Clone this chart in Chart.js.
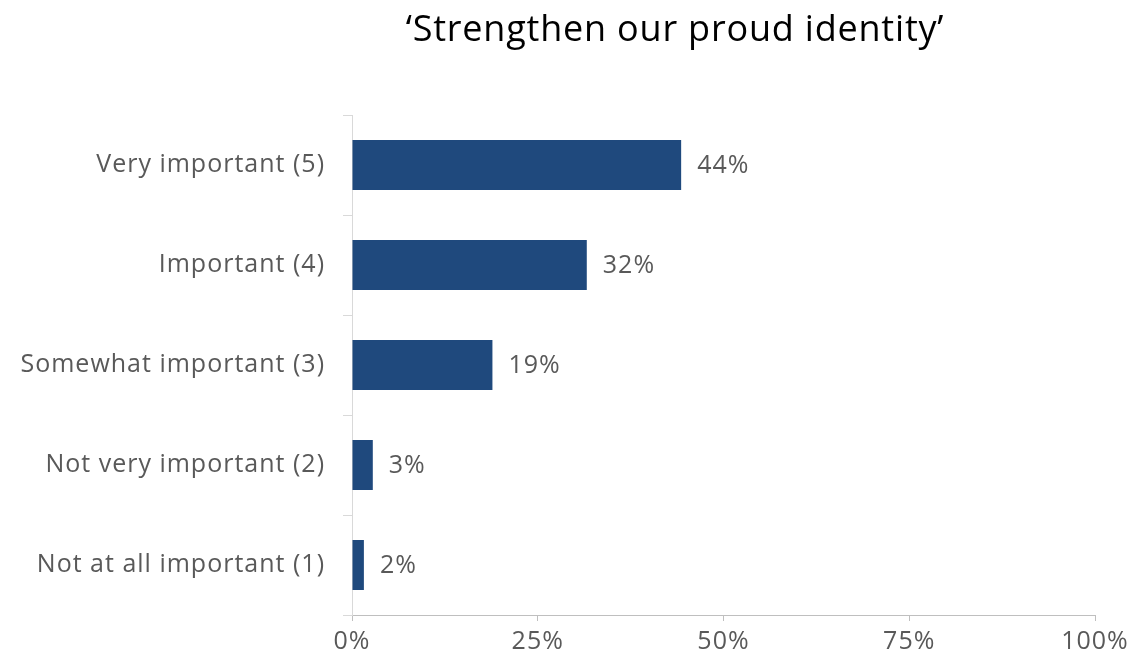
<!DOCTYPE html>
<html>
<head>
<meta charset="utf-8">
<script src="https://cdn.jsdelivr.net/npm/chart.js@4.4.1/dist/chart.umd.min.js"></script>
<style>
  html, body { margin: 0; padding: 0; background: #fff; }
  #wrap { position: relative; width: 1128px; height: 656px; }
  #title {
    position: absolute; left: 0; width: 1350px; top: 3px;
    text-align: center; font-family: 'Open Sans', sans-serif; font-size: 36px;
    letter-spacing: 0.8px;
    color: #000; white-space: nowrap;
  }
  canvas { position: absolute; left: 0; top: 0; }
</style>
</head>
<body>
<div id="wrap">
  <canvas id="chart" width="1128" height="656"></canvas>
  <div id="title">‘Strengthen our proud identity’</div>
</div>
<script>
// --- DATA ---
const categories = [
  'Very important (5)',
  'Important (4)',
  'Somewhat important (3)',
  'Not very important (2)',
  'Not at all important (1)'
];
const shares = [44.3, 31.6, 18.9, 2.8, 1.6];
const shareLabels = ['44%', '32%', '19%', '3%', '2%'];
const xTicks = [0, 25, 50, 75, 100];

const FONT = "'Open Sans', sans-serif";
const TEXT_GREY = '#595959';

// slightly wider spacing on all canvas text (reference font runs wide)
const spacing = {
  id: 'spacing',
  beforeLayout(chart) { chart.ctx.letterSpacing = '1px'; },
  beforeDraw(chart) { chart.ctx.letterSpacing = '1px'; }
};

// value labels at the end of each bar
const barLabels = {
  id: 'barLabels',
  afterDatasetsDraw(chart) {
    const ctx = chart.ctx;
    const meta = chart.getDatasetMeta(0);
    ctx.save();
    ctx.font = '25px ' + FONT;
    ctx.fillStyle = TEXT_GREY;
    ctx.textAlign = 'left';
    ctx.textBaseline = 'middle';
    meta.data.forEach((bar, i) => {
      ctx.fillText(shareLabels[i], bar.x + 16, bar.y + 1);
    });
    ctx.restore();
  }
};

new Chart(document.getElementById('chart'), {
  type: 'bar',
  data: {
    labels: categories,
    datasets: [{
      data: shares,
      backgroundColor: '#1F497D',
      borderWidth: 0,
      barPercentage: 0.5,
      categoryPercentage: 1.0
    }]
  },
  options: {
    indexAxis: 'y',
    responsive: false,
    animation: false,
    layout: { padding: { top: 115, right: 33, left: 0, bottom: 0 } },
    plugins: {
      legend: { display: false },
      tooltip: { enabled: false }
    },
    scales: {
      x: {
        min: 0,
        max: 100,
        afterFit: (axis) => { axis.height = 41; axis.paddingRight = 0; axis.paddingLeft = 0; },
        afterBuildTicks: (axis) => { axis.ticks = xTicks.map(v => ({ value: v })); },
        ticks: {
          padding: 6,
          color: TEXT_GREY,
          font: { family: FONT, size: 25 },
          callback: (v) => v + '%'
        },
        grid: { drawOnChartArea: false, drawTicks: true, tickLength: 6, color: '#bfbfbf' },
        border: { display: true, color: '#bfbfbf', width: 1 }
      },
      y: {
        afterFit: (axis) => { axis.width = 352; },
        ticks: {
          padding: 18,
          color: TEXT_GREY,
          font: { family: FONT, size: 25 }
        },
        grid: { offset: true, drawOnChartArea: false, drawTicks: true, tickLength: 9, color: '#d9d9d9' },
        border: { display: true, color: '#d9d9d9', width: 1 }
      }
    }
  },
  plugins: [spacing, barLabels]
});
</script>
</body>
</html>
